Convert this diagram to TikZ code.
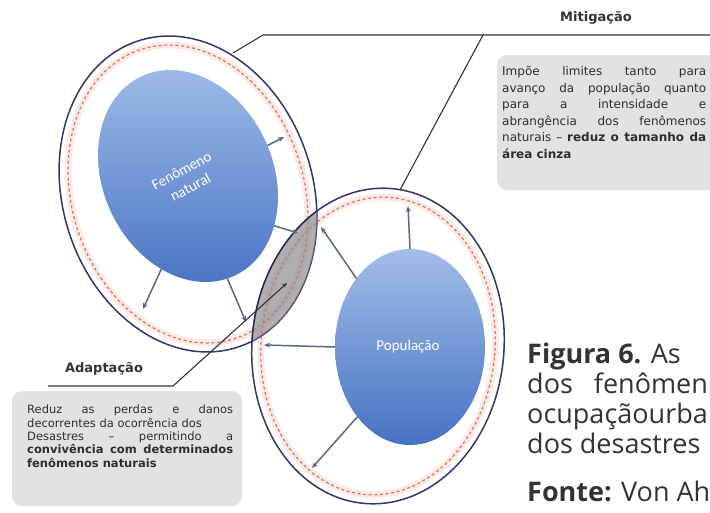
\documentclass[tikz,border=0pt]{standalone}
\usepackage{fontspec}
\setmainfont{DejaVu Sans}
\newfontfamily\capfont{Open Sans}
\newfontfamily\calfont{Carlito}
\usetikzlibrary{arrows.meta,shapes.geometric}
\definecolor{ringc}{HTML}{34346E}
\definecolor{dashc}{HTML}{E0705F}
\definecolor{haloc}{HTML}{FBEAE6}
\definecolor{bluetop}{HTML}{A2BDE9}
\definecolor{bluebot}{HTML}{4672C3}
\definecolor{arrc}{HTML}{5A6888}
\definecolor{lensc}{HTML}{8E8E8E}
\definecolor{leadc}{HTML}{333333}
\definecolor{boxc}{HTML}{E2E2E2}
\definecolor{txtc}{HTML}{2E2E2E}
\definecolor{capc}{HTML}{333333}
\begin{document}
\begin{tikzpicture}[x=1pt,y=-1pt,
  ring/.style={ellipse, draw=ringc, line width=1.5pt, inner sep=0pt, outer sep=0pt},
  dring/.style={ellipse, draw=dashc, line width=1.2pt, dash pattern=on 3pt off 2.6pt, inner sep=0pt, outer sep=0pt},
  halo/.style={ellipse, draw=haloc, line width=7pt, inner sep=0pt, outer sep=0pt},
  blob/.style={ellipse, top color=bluetop, bottom color=bluebot, inner sep=0pt, outer sep=0pt},
  arr/.style={draw=arrc, line width=1.5pt, -{Stealth[length=6pt,width=5pt]}},
  leader/.style={draw=leadc, line width=1.1pt},
  boxfill/.style={fill=boxc, rounded corners=10pt},
  lab/.style={font=\bfseries\fontsize{13}{15}\selectfont, text=leadc, inner sep=0pt},
  mtxt/.style={font=\fontsize{12}{16.6}\selectfont, text=txtc, inner sep=0pt, anchor=north west, align=left},
  atxt/.style={font=\fontsize{11.5}{13.3}\selectfont, text=txtc, inner sep=0pt, anchor=north west, align=left},
  captxt/.style={font=\capfont\fontsize{27}{30}\selectfont, text=capc, inner sep=0pt, anchor=base west},
  intxt/.style={text=white, font=\calfont\fontsize{15}{19}\selectfont, inner sep=0pt}
]
\useasboundingbox (0,0) rectangle (710,512);
\fill[white] (0,0) rectangle (710,512);

% text boxes
\fill[boxfill] (497,55) rectangle (745,190);
\fill[boxfill] (12,391) rectangle (242,506);

% rings
\node[halo, minimum width=232pt, minimum height=304pt, rotate=18] (fhalo) at (188,194) {};
\node[halo, minimum width=234pt, minimum height=298pt, rotate=-5] (phalo) at (378,346) {};
\node[dring, minimum width=232pt, minimum height=304pt, rotate=18] (fdash) at (188,194) {};
\node[dring, minimum width=234pt, minimum height=298pt, rotate=-5] (pdash) at (378,346) {};
\node[ring, minimum width=250pt, minimum height=322pt, rotate=18] (fring) at (188,194) {};
\node[ring, minimum width=252pt, minimum height=316pt, rotate=-5] (pring) at (378,346) {};

% blobs
\node[blob, minimum width=170pt, minimum height=220pt, rotate=25] (fen) at (188,176) {};
\node[blob, minimum width=150pt, minimum height=196pt] (pop) at (410,347) {};

% lens
\begin{scope}
  \clip[rotate around={18:(188,194)}] (188,194) ellipse [x radius=125, y radius=161];
  \fill[lensc, opacity=.7, rotate around={-5:(378,346)}] (378,346) ellipse [x radius=126, y radius=158];
\end{scope}
\begin{scope}
  \clip[rotate around={18:(188,194)}] (188,194) ellipse [x radius=125, y radius=161];
  \draw[ringc!70!black, line width=1.2pt, rotate around={-5:(378,346)}] (378,346) ellipse [x radius=126, y radius=158];
\end{scope}

% arrows
\coordinate (fe1) at (284,137);
\coordinate (fe2) at (143,309);
\coordinate (fe3) at (246,322);
\coordinate (fe4) at (298,233);
\draw[arr] (fen.-4) -- (fe1);
\draw[arr] (fen.-131) -- (fe2);
\draw[arr] (fen.-94) -- (fe3);
\draw[arr] (fen.-55) -- (fe4);
\coordinate (pe1) at (408,206);
\coordinate (pe2) at (321,227);
\coordinate (pe3) at (264,345);
\coordinate (pe4) at (312,468);
\draw[arr] (pop.90) -- (pe1);
\draw[arr] (pop.128) -- (pe2);
\draw[arr] (pop.180) -- (pe3);
\draw[arr] (pop.-127) -- (pe4);

% leaders
\coordinate (m1) at (233,53);
\coordinate (m2) at (263,35);
\coordinate (m3) at (715,35);
\coordinate (m4) at (483,35);
\coordinate (m5) at (400,190);
\draw[leader] (m1) -- (m2) -- (m3);
\draw[leader] (m4) -- (m5);
\coordinate (a1) at (48,386);
\coordinate (a2) at (173,386);
\coordinate (a3) at (287,283);
\draw[leader, -{Stealth[length=5pt,width=4pt]}] (a1) -- (a2) -- (a3);

% labels
\node[lab] (mitlab) at (596,18) {Mitigação};
\node[lab] (adlab) at (104,369) {Adaptação};

\node[mtxt] (mittxt) at (502,66) {%
\makebox[204pt][s]{Impõe limites tanto para}\\
\makebox[204pt][s]{avanço da população quanto}\\
\makebox[204pt][s]{para a intensidade e}\\
\makebox[204pt][s]{abrangência dos fenômenos}\\
\makebox[204pt][s]{naturais – \textbf{reduz o tamanho da}}\\
\textbf{área cinza}};

\node[atxt] (adtxt) at (27,405) {%
\makebox[206pt][s]{Reduz as perdas e danos}\\
decorrentes da ocorrência dos\\
\makebox[206pt][s]{Desastres – permitindo a}\\
\makebox[206pt][s]{\textbf{convivência com determinados}}\\
\textbf{fenômenos naturais}};

% inner texts
\node[intxt, rotate=28, align=center] (fentxt) at (186,179) {Fenômeno\\natural};
\node[intxt] (poptxt) at (408,347) {População};

% caption
\node[captxt] (c1) at (527,363) {\textbf{Figura 6.} As};
\node[captxt] (c2) at (527,393) {dos\hspace*{21pt}fenômen};
\node[captxt] (c3) at (527,423) {ocupaçãourba};
\node[captxt] (c4) at (527,453) {dos desastres};
\node[captxt] (c5) at (527,501) {\textbf{Fonte:} Von Ah};
\end{tikzpicture}
\end{document}
